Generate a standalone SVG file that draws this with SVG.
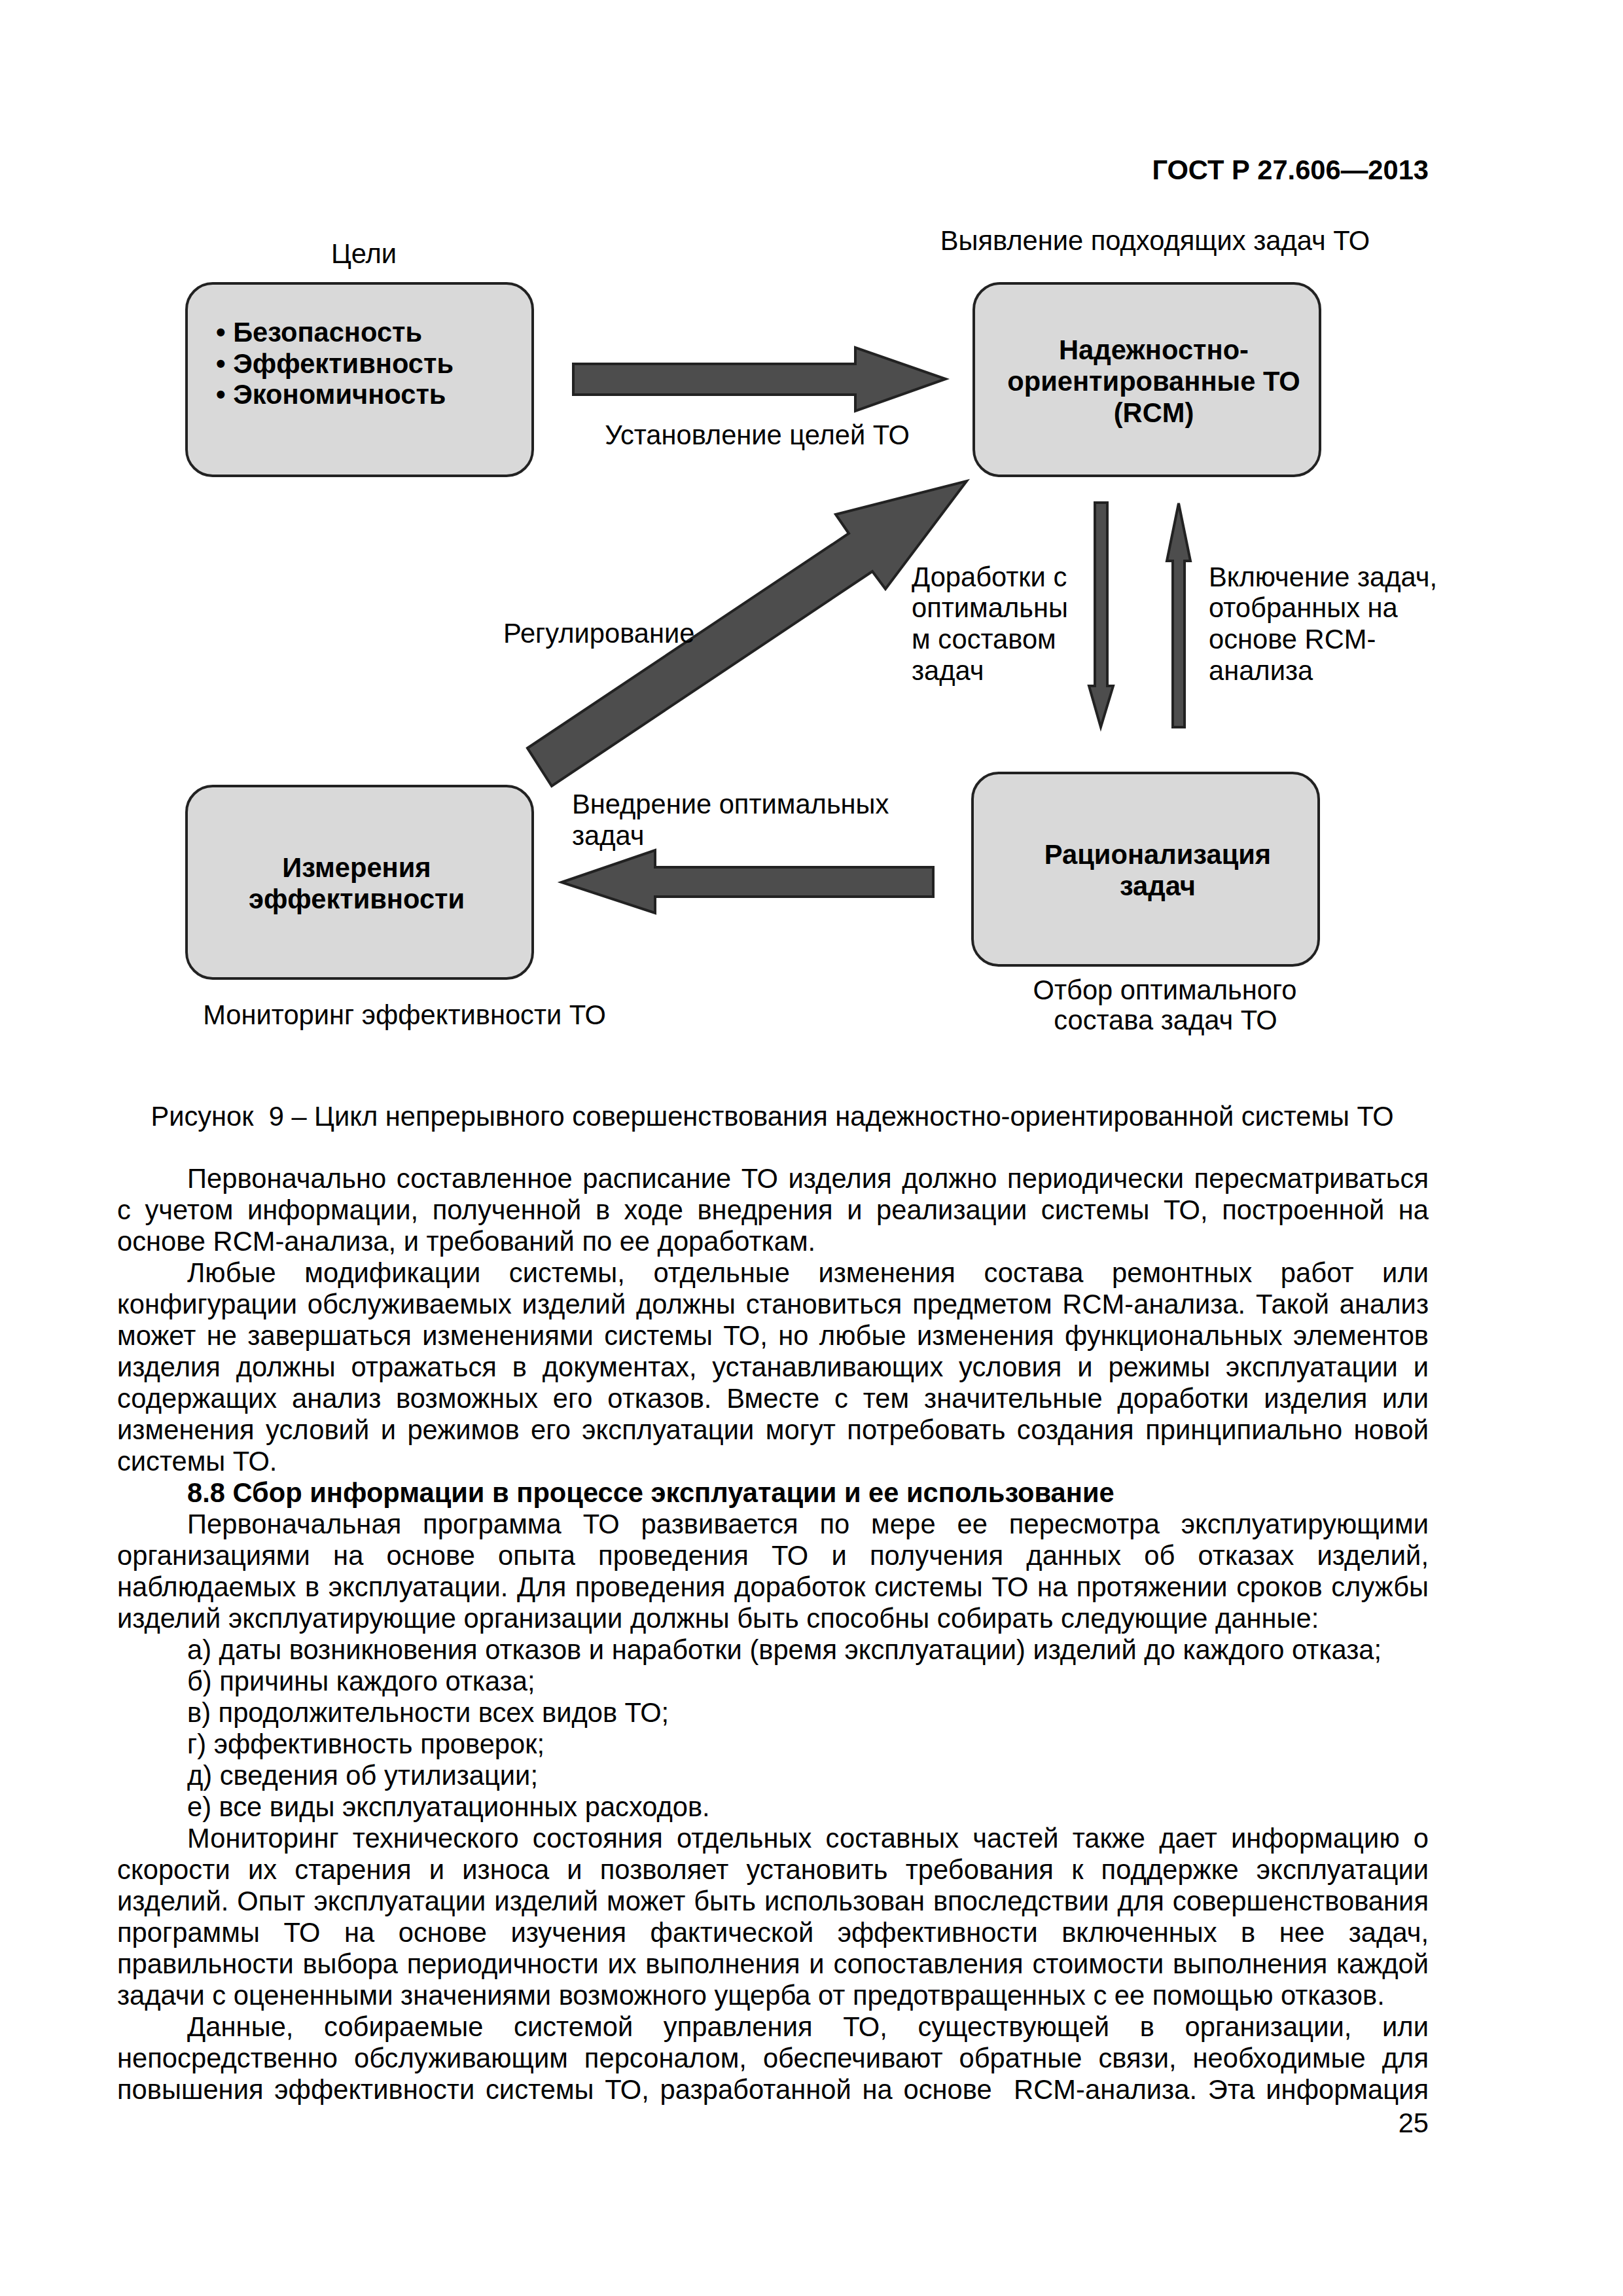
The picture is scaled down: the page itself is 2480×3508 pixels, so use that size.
<svg xmlns="http://www.w3.org/2000/svg" width="2480" height="3508" viewBox="0 0 2480 3508">
<style>
.t{font-family:"Liberation Sans",Arial,"DejaVu Sans",sans-serif;font-size:41.67px;fill:#000}
.b{font-weight:bold}
.c{text-anchor:middle}
.e{text-anchor:end}
.box{fill:#d9d9d9;stroke:#222;stroke-width:4}
.arr{fill:#4d4d4d;stroke:#222;stroke-width:4;stroke-linejoin:miter}
</style>
<rect width="2480" height="3508" fill="#fff"/>
<text class="t b e" x="2183" y="274">ГОСТ Р 27.606—2013</text>

<g id="node-goals">
<text class="t c" x="556" y="402">Цели</text>
<rect class="box" x="285" y="433" width="529" height="294" rx="40"/>
<text class="t b" x="330" y="522">• Безопасность</text>
<text class="t b" x="330" y="570">• Эффективность</text>
<text class="t b" x="330" y="617">• Экономичность</text>
</g>

<g id="node-rcm">
<text class="t c" x="1765" y="382">Выявление подходящих задач ТО</text>
<rect class="box" x="1488" y="433" width="529" height="294" rx="40"/>
<text class="t b c" x="1763" y="549">Надежностно-</text>
<text class="t b c" x="1763" y="597">ориентированные ТО</text>
<text class="t b c" x="1763" y="645">(RCM)</text>
</g>

<g id="node-measure">
<rect class="box" x="285" y="1201" width="529" height="294" rx="40"/>
<text class="t b c" x="545" y="1340">Измерения</text>
<text class="t b c" x="545" y="1388">эффективности</text>
<text class="t c" x="618" y="1565">Мониторинг эффективности ТО</text>
</g>

<g id="node-rational">
<rect class="box" x="1486" y="1181" width="529" height="294" rx="40"/>
<text class="t b c" x="1769" y="1320">Рационализация</text>
<text class="t b c" x="1769" y="1368">задач</text>
<text class="t c" x="1780" y="1527">Отбор оптимального</text>
<text class="t c" x="1781" y="1573">состава задач ТО</text>
</g>

<g id="connectors">
<polygon class="arr" points="876,556 1307,556 1307,531 1445,579 1307,628 1307,603 876,603"/>
<text class="t c" x="1157" y="679">Установление целей ТО</text>
<polygon class="arr" points="806,1143 1297,815 1277,786 1477,735 1353,900 1333,873 843,1201"/>
<text class="t" x="769" y="982">Регулирование</text>
<polygon class="arr" points="1673,768 1692,768 1692,1048 1701,1048 1682,1111 1664,1048 1673,1048"/>
<text class="t" x="1393" y="896">Доработки с</text>
<text class="t" x="1393" y="943">оптимальны</text>
<text class="t" x="1393" y="991">м составом</text>
<text class="t" x="1393" y="1039">задач</text>
<polygon class="arr" points="1801,769 1819,857 1810,857 1810,1111 1792,1111 1792,857 1783,857"/>
<text class="t" x="1847" y="896">Включение задач,</text>
<text class="t" x="1847" y="943">отобранных на</text>
<text class="t" x="1847" y="991">основе RCM-</text>
<text class="t" x="1847" y="1039">анализа</text>
<polygon class="arr" points="1426,1325 1001,1325 1001,1299 858,1348 1001,1395 1001,1370 1426,1370"/>
<text class="t" x="874" y="1243">Внедрение оптимальных</text>
<text class="t" x="874" y="1291">задач</text>
</g>

<text class="t c" x="1180" y="1720" xml:space="preserve">Рисунок  9 – Цикл непрерывного совершенствования надежностно-ориентированной системы ТО</text>

<g id="body-text">
<text class="t" x="286" y="1815" textLength="1897" lengthAdjust="spacing" style="word-spacing:3.9px">Первоначально составленное расписание ТО изделия должно периодически пересматриваться</text>
<text class="t" x="179" y="1863" textLength="2004" lengthAdjust="spacing" style="word-spacing:9.9px">с учетом информации, полученной в ходе внедрения и реализации системы ТО, построенной на</text>
<text class="t" x="179" y="1911">основе RCM-анализа, и требований по ее доработкам.</text>
<text class="t" x="286" y="1959" textLength="1897" lengthAdjust="spacing" style="word-spacing:31.9px">Любые модификации системы, отдельные изменения состава ремонтных работ или</text>
<text class="t" x="179" y="2007" textLength="2004" lengthAdjust="spacing" style="word-spacing:4.2px">конфигурации обслуживаемых изделий должны становиться предметом RCM-анализа. Такой анализ</text>
<text class="t" x="179" y="2055" textLength="2004" lengthAdjust="spacing" style="word-spacing:4.7px">может не завершаться изменениями системы ТО, но любые изменения функциональных элементов</text>
<text class="t" x="179" y="2103" textLength="2004" lengthAdjust="spacing" style="word-spacing:12.2px">изделия должны отражаться в документах, устанавливающих условия и режимы эксплуатации и</text>
<text class="t" x="179" y="2151" textLength="2004" lengthAdjust="spacing" style="word-spacing:11.1px">содержащих анализ возможных его отказов. Вместе с тем значительные доработки изделия или</text>
<text class="t" x="179" y="2199" textLength="2004" lengthAdjust="spacing" style="word-spacing:5.8px">изменения условий и режимов его эксплуатации могут потребовать создания принципиально новой</text>
<text class="t" x="179" y="2247">системы ТО.</text>
<text class="t b" x="286" y="2295">8.8 Сбор информации в процессе эксплуатации и ее использование</text>
<text class="t" x="286" y="2343" textLength="1897" lengthAdjust="spacing" style="word-spacing:21.1px">Первоначальная программа ТО развивается по мере ее пересмотра эксплуатирующими</text>
<text class="t" x="179" y="2391" textLength="2004" lengthAdjust="spacing" style="word-spacing:23.5px">организациями на основе опыта проведения ТО и получения данных об отказах изделий,</text>
<text class="t" x="179" y="2439" textLength="2004" lengthAdjust="spacing" style="word-spacing:2px">наблюдаемых в эксплуатации. Для проведения доработок системы ТО на протяжении сроков службы</text>
<text class="t" x="179" y="2487">изделий эксплуатирующие организации должны быть способны собирать следующие данные:</text>
<text class="t" x="286" y="2535">а) даты возникновения отказов и наработки (время эксплуатации) изделий до каждого отказа;</text>
<text class="t" x="286" y="2583">б) причины каждого отказа;</text>
<text class="t" x="286" y="2631">в) продолжительности всех видов ТО;</text>
<text class="t" x="286" y="2679">г) эффективность проверок;</text>
<text class="t" x="286" y="2727">д) сведения об утилизации;</text>
<text class="t" x="286" y="2775">е) все виды эксплуатационных расходов.</text>
<text class="t" x="286" y="2823" textLength="1897" lengthAdjust="spacing" style="word-spacing:9.5px">Мониторинг технического состояния отдельных составных частей также дает информацию о</text>
<text class="t" x="179" y="2871" textLength="2004" lengthAdjust="spacing" style="word-spacing:15.5px">скорости их старения и износа и позволяет установить требования к поддержке эксплуатации</text>
<text class="t" x="179" y="2919" textLength="2004" lengthAdjust="spacing" style="word-spacing:1.3px">изделий. Опыт эксплуатации изделий может быть использован впоследствии для совершенствования</text>
<text class="t" x="179" y="2967" textLength="2004" lengthAdjust="spacing" style="word-spacing:24.9px">программы ТО на основе изучения фактической эффективности включенных в нее задач,</text>
<text class="t" x="179" y="3015" textLength="2004" lengthAdjust="spacing" style="word-spacing:2.2px">правильности выбора периодичности их выполнения и сопоставления стоимости выполнения каждой</text>
<text class="t" x="179" y="3063">задачи с оцененными значениями возможного ущерба от предотвращенных с ее помощью отказов.</text>
<text class="t" x="286" y="3111" textLength="1897" lengthAdjust="spacing" style="word-spacing:34.9px">Данные, собираемые системой управления ТО, существующей в организации, или</text>
<text class="t" x="179" y="3159" textLength="2004" lengthAdjust="spacing" style="word-spacing:13.3px">непосредственно обслуживающим персоналом, обеспечивают обратные связи, необходимые для</text>
<text class="t" x="179" y="3207" textLength="2004" lengthAdjust="spacing" xml:space="preserve" style="word-spacing:5.1px">повышения эффективности системы ТО, разработанной на основе  RCM-анализа. Эта информация</text>
<text class="t e" x="2183" y="3258">25</text>
</g>
</svg>
